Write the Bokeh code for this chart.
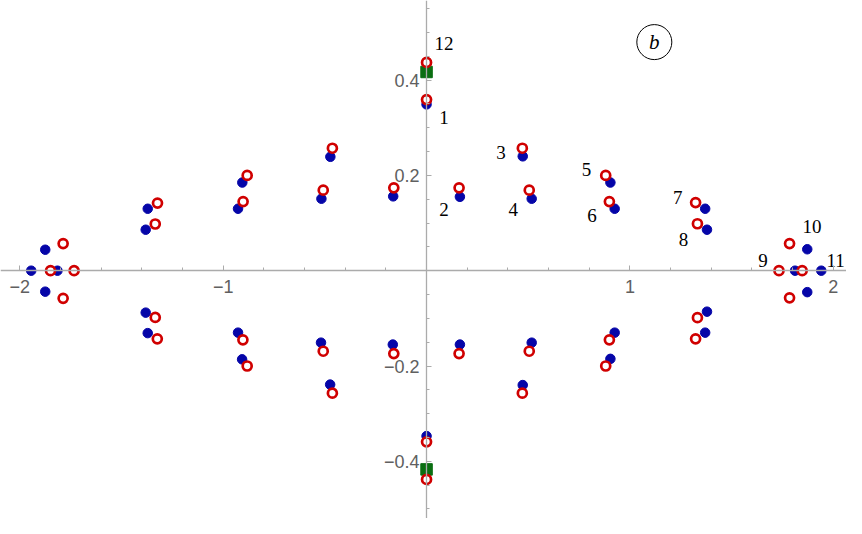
from bokeh.plotting import figure
from bokeh.models import FixedTicker, Range1d
from bokeh.core.properties import value
from bokeh.embed import file_html
from bokeh.resources import INLINE

# ---- data ----
blue_x = [0.164, 0.473, 0.517, 0.904, 0.925, 1.370, 1.379, 1.872,
          -0.164, -0.473, -0.517, -0.906, -0.927, -1.371, -1.381, -1.875,
          -0.166, -0.474, -0.519, -0.907, -0.927, -1.371, -1.381, -1.875,
          0.164, 0.473, 0.517, 0.904, 0.925, 1.370, 1.379, 1.872,
          0.0, 0.0, 1.812, 1.941, -1.815, -1.944]
blue_y = [0.155, 0.240, 0.151, 0.185, 0.130, 0.130, 0.086, 0.045,
          0.156, 0.239, 0.151, 0.185, 0.130, 0.130, 0.086, 0.044,
          -0.155, -0.239, -0.151, -0.186, -0.130, -0.131, -0.088, -0.044,
          -0.155, -0.240, -0.151, -0.185, -0.130, -0.130, -0.086, -0.045,
          0.349, -0.347, 0.0, 0.0, 0.0, 0.0]

red_x = [0.160, 0.471, 0.505, 0.881, 0.899, 1.323, 1.332, 1.785,
         -0.161, -0.463, -0.508, -0.882, -0.902, -1.323, -1.334, -1.787,
         -0.161, -0.463, -0.508, -0.882, -0.903, -1.324, -1.334, -1.787,
         0.160, 0.471, 0.505, 0.881, 0.899, 1.323, 1.332, 1.785,
         0.0, 0.0, 0.0, 0.0, 1.733, 1.847, -1.733, -1.849]
red_y = [0.174, 0.257, 0.169, 0.200, 0.145, 0.143, 0.0985, 0.057,
         0.174, 0.257, 0.169, 0.200, 0.145, 0.142, 0.098, 0.057,
         -0.174, -0.257, -0.169, -0.200, -0.145, -0.143, -0.098, -0.058,
         -0.174, -0.257, -0.169, -0.200, -0.145, -0.143, -0.0985, -0.057,
         0.359, 0.437, -0.359, -0.438, 0.0, 0.0, 0.0, 0.0]

green_x = [0.0, 0.0]
green_y = [0.417, -0.417]

num_labels = ["12", "1", "2", "3", "4", "5", "6", "7", "8", "9", "10", "11"]
label_x = [0.086, 0.086, 0.086, 0.366, 0.426, 0.787, 0.814, 1.235, 1.263, 1.654, 1.895, 2.012]
label_y = [0.4776, 0.3224, 0.128, 0.249, 0.128, 0.212, 0.116, 0.1526, 0.066, 0.0205, 0.0918, 0.022]

panel_x = [1.12]
panel_y = [0.4797]
panel_text = ["b"]

x_ticks = [-2, -1, 1, 2]
x_tick_labels = ["\u22122", "\u22121", "1", "2"]
y_ticks = [-0.4, -0.2, 0.2, 0.4]
y_tick_labels = ["\u22120.4", "\u22120.2", "0.2", "0.4"]
x_minor = [round(-2.0 + 0.2 * i, 2) for i in range(21)]
y_minor = [round(-0.55 + 0.05 * i, 2) for i in range(23)]

# ---- figure ----
p = figure(width=846, height=518, x_range=Range1d(-2.095, 2.065),
           y_range=Range1d(-0.52, 0.567), output_backend="svg",
           toolbar_location=None, min_border=0)
p.xgrid.visible = False
p.ygrid.visible = False
p.outline_line_color = None
p.background_fill_color = "white"

for ax, ticks, labels, minor in ((p.xaxis, x_ticks, x_tick_labels, x_minor),
                                 (p.yaxis, y_ticks, y_tick_labels, y_minor)):
    ax.fixed_location = 0
    ax.ticker = FixedTicker(ticks=ticks, minor_ticks=minor)
    ax.major_label_overrides = dict(zip(ticks, labels))
    ax.axis_line_color = "#ababab"
    ax.axis_line_width = 1.3
    ax.major_tick_line_color = "#ababab"
    ax.minor_tick_line_color = "#ababab"
    ax.major_tick_in = 5
    ax.major_tick_out = 0
    ax.minor_tick_in = 3
    ax.minor_tick_out = 0
    ax.major_label_text_font = "Liberation Sans"
    ax.major_label_text_font_size = "18px"
    ax.major_label_text_color = "#606060"
p.xaxis.major_label_standoff = 9
p.yaxis.major_label_standoff = 7

p.scatter(blue_x, blue_y, marker="circle", size=9.5, fill_color="#0505a8",
          line_color="#0505a8")
p.scatter(green_x, green_y, marker="square", size=11.5, fill_color="#0a6e12",
          line_color="#0a6e12")
p.scatter(red_x, red_y, marker="circle", size=9, fill_color="white",
          line_color="#d00000", line_width=2.7)

p.text(label_x, label_y, text=num_labels, text_font=value("Liberation Serif"),
       text_font_size="19px", text_align="center", text_baseline="middle",
       text_color="black")

p.scatter(panel_x, panel_y, marker="circle", size=35, fill_color=None,
          line_color="black", line_width=1)
p.text(panel_x, panel_y, text=panel_text, text_font=value("Liberation Serif"),
       text_font_style="italic", text_font_size="21px", text_align="center",
       text_baseline="middle", text_color="black")

open("out.html", "w").write(file_html(p, INLINE))
